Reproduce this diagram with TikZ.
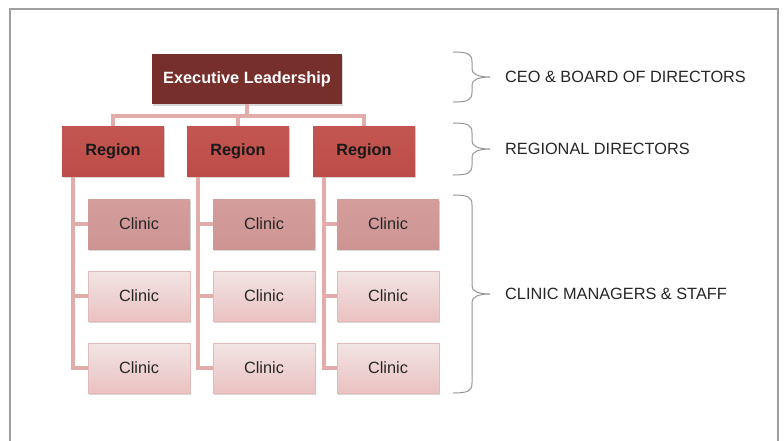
\documentclass[tikz,border=0pt]{standalone}
\usepackage{fontspec}
\setmainfont{Liberation Sans}
\usetikzlibrary{shadows}
\definecolor{execred}{RGB}{119,47,43}
\definecolor{regtop}{RGB}{196,86,82}
\definecolor{regbot}{RGB}{188,76,72}
\definecolor{connred}{RGB}{226,172,170}
\definecolor{clinA}{RGB}{212,158,156}
\definecolor{clinAb}{RGB}{205,148,146}
\definecolor{clinBt}{RGB}{242,228,228}
\definecolor{clinBb}{RGB}{234,194,193}
\definecolor{clinBd}{RGB}{226,186,185}
\definecolor{bracegray}{RGB}{150,150,150}
\definecolor{framegray}{RGB}{160,160,160}
\tikzset{
  box/.style={draw=none, minimum width=102pt, minimum height=50pt, inner sep=0pt,
    font=\fontsize{16.3}{19}\selectfont,
    drop shadow={opacity=0.3, shadow xshift=1pt, shadow yshift=-1.5pt}},
  execbox/.style={box, minimum width=190pt, fill=execred, text=white, font=\fontsize{16.3}{19}\selectfont\bfseries},
  regbox/.style={box, top color=regtop, bottom color=regbot, text=black!90, font=\fontsize{16.3}{19}\selectfont\bfseries},
  clinicA/.style={box, top color=clinA, bottom color=clinAb, text=black!85},
  clinicB/.style={box, draw=clinBd, line width=0.6pt, top color=clinBt, bottom color=clinBb, text=black!85},
  conn/.style={draw=connred, line width=4pt},
  bracestyle/.style={draw=bracegray, line width=1pt},
  lvl/.style={anchor=west, inner sep=0pt, text=black!85, font=\fontsize{16.3}{19}\selectfont},
}
\newcommand{\mybrace}[5]{% xl, xv, xt, ytop, ybot
  \pgfmathsetmacro{\ym}{(#4+#5)/2}
  \draw[bracestyle] (#1,#4) .. controls (#2-4,#4) and (#2,#4+2) .. (#2,#4+10)
    -- (#2,\ym-8) .. controls (#2,\ym-3) and (#2+6,\ym) .. (#3,\ym)
    .. controls (#2+6,\ym) and (#2,\ym+3) .. (#2,\ym+8)
    -- (#2,#5-10) .. controls (#2,#5-2) and (#2-4,#5) .. (#1,#5);
}
\begin{document}
\begin{tikzpicture}[x=1pt,y=-1pt]
\useasboundingbox (0,0) rectangle (784,440);
\fill[white] (0,0) rectangle (784,440);
% frame
\begin{scope}
\clip (0,0) rectangle (784,440);
\draw[framegray, line width=2pt, drop shadow={opacity=0.2, shadow xshift=0pt, shadow yshift=-1pt}, fill=white] (10,9) rectangle (778,470);
\end{scope}
% nodes
\node[execbox] (exec) at (247,79) {Executive Leadership};
\node[regbox] (r1) at (113,151.5) {Region};
\node[regbox] (r2) at (238,151.5) {Region};
\node[regbox] (r3) at (364,151.5) {Region};
\foreach \c/\x in {1/139,2/264,3/388}{
  \node[clinicA] (c\c1) at (\x,224) {Clinic};
  \node[clinicB] (c\c2) at (\x,296) {Clinic};
  \node[clinicB] (c\c3) at (\x,368) {Clinic};
}
% connectors
\draw[conn] (exec.south) -- ++(0,12) coordinate (bar);
\draw[conn] (r1.north) |- (bar) -| (r3.north);
\draw[conn] (r2.north) -- (r2.north |- bar);
\foreach \r in {1,2,3}{
  \coordinate (v\r) at ([xshift=11pt]r\r.south west);
  \draw[conn] (c\r3.west) -| (v\r);
  \draw[conn] (c\r1.west) -- (c\r1.west -| v\r);
  \draw[conn] (c\r2.west) -- (c\r2.west -| v\r);
}
% braces
\mybrace{453}{472}{490}{52}{102}
\mybrace{453}{472}{490}{123}{175}
\mybrace{453}{472}{490}{195}{393}
\node[lvl] (l1) at (505,77) {CEO \& BOARD OF DIRECTORS};
\node[lvl] (l2) at (505,149) {REGIONAL DIRECTORS};
\node[lvl] (l3) at (505,294) {CLINIC MANAGERS \& STAFF};
\end{tikzpicture}
\end{document}
